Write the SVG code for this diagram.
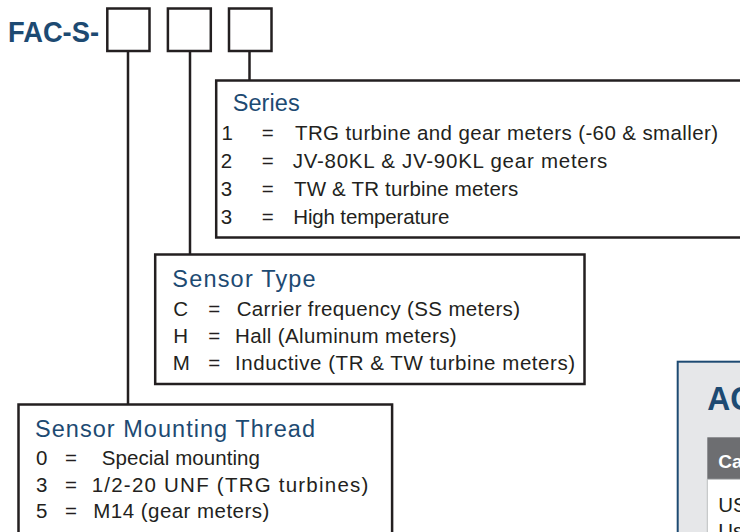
<svg xmlns="http://www.w3.org/2000/svg" width="740" height="532" viewBox="0 0 740 532">
<style>
.box{fill:#ffffff;stroke:#231f20;stroke-width:2.5}
.con{fill:none;stroke:#231f20;stroke-width:2.5}
.code{font-family:"Liberation Sans",Arial,sans-serif;font-weight:bold;fill:#1d4a72}
.title{font-family:"Liberation Sans",Arial,sans-serif;font-size:23.5px;fill:#1d4a72}
.item{font-family:"Liberation Sans",Arial,sans-serif;font-size:20.5px;fill:#231f20}
.white{font-family:"Liberation Sans",Arial,sans-serif;font-weight:bold;font-size:19px;fill:#ffffff}
</style>
<rect width="740" height="532" fill="#ffffff"/>
<g id="connectors">
<line class="con" x1="128" y1="51" x2="128" y2="404"/>
<line class="con" x1="190" y1="51" x2="190" y2="254"/>
<line class="con" x1="249.5" y1="51" x2="249.5" y2="80"/>
</g>
<g id="code">
<text class="code" x="8" y="42" font-size="29" textLength="91" lengthAdjust="spacingAndGlyphs">FAC-S-</text>
<rect class="box" x="107.3" y="8.5" width="42.2" height="42.5"/>
<rect class="box" x="167.9" y="8.5" width="42.9" height="42.5"/>
<rect class="box" x="229" y="8.5" width="42.5" height="42.5"/>
</g>
<g id="series">
<rect class="box" x="216.2" y="80.5" width="560" height="157"/>
<text class="title" x="232.7" y="111.3" textLength="67" lengthAdjust="spacing">Series</text>
<text class="item" x="221.5" y="140">1</text><text class="item" x="261.7" y="140">=</text>
<text class="item" x="295" y="140" textLength="423" lengthAdjust="spacing">TRG turbine and gear meters (-60 &amp; smaller)</text>
<text class="item" x="220.7" y="168">2</text><text class="item" x="261.7" y="168">=</text>
<text class="item" x="292.7" y="168" textLength="314.6" lengthAdjust="spacing">JV-80KL &amp; JV-90KL gear meters</text>
<text class="item" x="220.7" y="196">3</text><text class="item" x="261.7" y="196">=</text>
<text class="item" x="294" y="196" textLength="224.3" lengthAdjust="spacing">TW &amp; TR turbine meters</text>
<text class="item" x="220.7" y="224">3</text><text class="item" x="261.7" y="224">=</text>
<text class="item" x="293.3" y="224" textLength="156" lengthAdjust="spacing">High temperature</text>
</g>
<g id="sensor-type">
<rect class="box" x="155.2" y="254.5" width="429.3" height="129.5"/>
<text class="title" x="172.3" y="287" textLength="143.4" lengthAdjust="spacing">Sensor Type</text>
<text class="item" x="173.3" y="316">C</text><text class="item" x="208.3" y="316">=</text>
<text class="item" x="236.7" y="316" textLength="283.3" lengthAdjust="spacing">Carrier frequency (SS meters)</text>
<text class="item" x="173.3" y="343">H</text><text class="item" x="208.3" y="343">=</text>
<text class="item" x="235" y="343" textLength="221.7" lengthAdjust="spacing">Hall (Aluminum meters)</text>
<text class="item" x="172.8" y="370">M</text><text class="item" x="208.3" y="370">=</text>
<text class="item" x="235" y="370" textLength="340" lengthAdjust="spacing">Inductive (TR &amp; TW turbine meters)</text>
</g>
<g id="mounting-thread">
<rect class="box" x="18.5" y="404.5" width="373.6" height="160"/>
<text class="title" x="35" y="436.7" textLength="280" lengthAdjust="spacing">Sensor Mounting Thread</text>
<text class="item" x="36" y="465">0</text><text class="item" x="65" y="465">=</text>
<text class="item" x="101.7" y="465" textLength="158.3" lengthAdjust="spacing">Special mounting</text>
<text class="item" x="36" y="491.7">3</text><text class="item" x="65" y="491.7">=</text>
<text class="item" x="91.7" y="491.7" textLength="276.6" lengthAdjust="spacing">1/2-20 UNF (TRG turbines)</text>
<text class="item" x="36" y="518.3">5</text><text class="item" x="65" y="518.3">=</text>
<text class="item" x="93.3" y="518.3" textLength="176" lengthAdjust="spacing">M14 (gear meters)</text>
</g>
<g id="accessories">
<rect x="677.7" y="361.7" width="100" height="200" fill="#e6e7e9" stroke="#1d4a72" stroke-width="2"/>
<text class="code" x="707.3" y="410" font-size="33" textLength="46" lengthAdjust="spacingAndGlyphs">AC</text>
<rect x="707.3" y="437.3" width="60" height="42" fill="#6d6e71"/>
<rect x="707.3" y="479.3" width="60" height="80" fill="#ffffff" stroke="#bcbec0" stroke-width="1"/>
<text class="white" x="718.3" y="468.3">Ca</text>
<text class="item" x="718.3" y="511.7" font-size="19">US</text>
<text class="item" x="718.3" y="538" font-size="19">Us</text>
</g>
</svg>
